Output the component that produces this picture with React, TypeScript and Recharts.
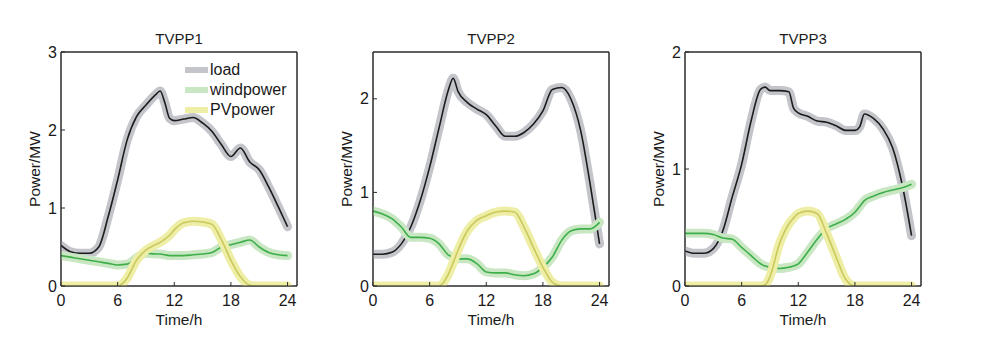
import { LineChart, Line, XAxis, YAxis, ReferenceArea } from 'recharts';

// hours of the day (extra half-hour points where a curve has a sharp peak)
const hours1 = [0, 1, 2, 3, 4, 5, 6, 7, 8, 9, 10, 10.5, 11, 11.5, 12, 13, 14, 15, 16, 17, 18, 19, 20, 21, 22, 23, 24];
const hours2 = [0, 1, 2, 3, 4, 5, 6, 7, 8, 8.5, 9, 10, 11, 12, 13, 14, 15, 16, 17, 18, 19, 20, 21, 22, 23, 24];
const hours3 = [0, 1, 2, 3, 4, 5, 6, 7, 8, 8.5, 9, 10, 11, 11.5, 12, 13, 14, 15, 16, 17, 18, 18.5, 19, 20, 21, 22, 23, 24];

const load1 = [0.52, 0.44, 0.42, 0.42, 0.5, 0.89, 1.36, 1.87, 2.17, 2.32, 2.45, 2.5, 2.35, 2.15, 2.12, 2.14, 2.16, 2.09, 1.98, 1.81, 1.66, 1.77, 1.59, 1.49, 1.27, 1.02, 0.76];
const wind1 = [0.39, 0.37, 0.35, 0.33, 0.31, 0.29, 0.27, 0.28, 0.36, 0.42, 0.41, 0.41, 0.4, 0.39, 0.39, 0.39, 0.4, 0.41, 0.43, 0.5, 0.53, 0.56, 0.59, 0.5, 0.43, 0.4, 0.39];
const pv1 = [0, 0, 0, 0, 0, 0, 0, 0.1, 0.33, 0.46, 0.53, 0.56, 0.6, 0.65, 0.72, 0.81, 0.83, 0.82, 0.79, 0.59, 0.33, 0.12, 0.01, 0, 0, 0, 0];

const load2 = [0.34, 0.34, 0.36, 0.45, 0.63, 0.91, 1.27, 1.69, 2.1, 2.22, 2.08, 1.96, 1.89, 1.83, 1.71, 1.6, 1.6, 1.64, 1.73, 1.87, 2.1, 2.12, 1.99, 1.66, 1.09, 0.45];
const wind2 = [0.8, 0.77, 0.72, 0.63, 0.52, 0.52, 0.51, 0.45, 0.33, 0.31, 0.29, 0.29, 0.24, 0.15, 0.14, 0.14, 0.12, 0.11, 0.13, 0.2, 0.31, 0.49, 0.59, 0.61, 0.61, 0.68];
const pv2 = [0, 0, 0, 0, 0, 0, 0, 0, 0.13, 0.25, 0.38, 0.59, 0.7, 0.75, 0.79, 0.8, 0.79, 0.63, 0.41, 0.2, 0.04, 0, 0, 0, 0, 0];

const load3 = [0.3, 0.28, 0.28, 0.32, 0.47, 0.76, 1.04, 1.41, 1.68, 1.7, 1.67, 1.67, 1.66, 1.52, 1.48, 1.45, 1.41, 1.4, 1.37, 1.33, 1.33, 1.36, 1.47, 1.43, 1.34, 1.18, 0.87, 0.43];
const wind3 = [0.45, 0.45, 0.45, 0.44, 0.41, 0.4, 0.33, 0.26, 0.19, 0.17, 0.16, 0.15, 0.16, 0.17, 0.19, 0.29, 0.4, 0.49, 0.53, 0.57, 0.63, 0.68, 0.73, 0.77, 0.8, 0.82, 0.84, 0.87];
const pv3 = [0, 0, 0, 0, 0, 0, 0, 0, 0, 0.01, 0.08, 0.36, 0.53, 0.58, 0.62, 0.64, 0.62, 0.45, 0.25, 0.06, 0, 0, 0, 0, 0, 0, 0, 0];

const titles = ['TVPP1', 'TVPP2', 'TVPP3'];
const xTicks = [0, 6, 12, 18, 24];
const yTicks = [[0, 1, 2, 3], [0, 1, 2], [0, 1, 2]];
const yMax = [3, 2.5, 2];
const legendNames = ['load', 'windpower', 'PVpower'];

const series = [
  { key: 'load', band: '#c3c5cb', line: '#1c1c1c' },
  { key: 'wind', band: '#c8e7c2', line: '#3daf4a' },
  { key: 'pv', band: '#eeeea6', line: '#c9c95e' },
];

const build = (t: number[], load: number[], wind: number[], pv: number[]) =>
  t.map((h, i) => ({ t: h, load: load[i], wind: wind[i], pv: pv[i] }));

const panels = [
  build(hours1, load1, wind1, pv1),
  build(hours2, load2, wind2, pv2),
  build(hours3, load3, wind3, pv3),
];

const FONT = '"Liberation Sans", Arial, sans-serif';
const AXIS = '#2b2b2b';
const PANEL_W = 312;
const H = 347;
const M = { top: 51, right: 14, bottom: 0, left: 21 };

function Panel({ idx }: { idx: number }) {
  const data = panels[idx];
  const plotLeft = M.left + 40;
  const plotW = PANEL_W - plotLeft - M.right - 1;
  const tickStyle = { fill: '#1a1a1a', fontSize: 16, fontFamily: FONT };
  return (
    <div style={{ position: 'absolute', left: idx * PANEL_W, top: 0, width: PANEL_W, height: H }}>
      <LineChart width={PANEL_W} height={H} data={data} margin={M}>
        <XAxis
          dataKey="t"
          type="number"
          domain={[0, 25]}
          ticks={xTicks}
          height={61}
          tickSize={-4}
          tickMargin={13}
          stroke={AXIS}
          tick={tickStyle}
          allowDataOverflow
        />
        <XAxis
          xAxisId="top"
          dataKey="t"
          type="number"
          orientation="top"
          domain={[0, 25]}
          ticks={xTicks}
          height={1}
          tickSize={-4}
          tick={false}
          stroke={AXIS}
        />
        <YAxis
          type="number"
          domain={[0, yMax[idx]]}
          ticks={yTicks[idx]}
          width={40}
          tickSize={-4}
          tickMargin={8}
          stroke={AXIS}
          tick={tickStyle}
          allowDataOverflow
        />
        <YAxis
          yAxisId="right"
          type="number"
          orientation="right"
          domain={[0, yMax[idx]]}
          ticks={yTicks[idx]}
          width={1}
          tickSize={-4}
          tick={false}
          stroke={AXIS}
        />
        <ReferenceArea x1={0} x2={25} y1={0} y2={yMax[idx]} fill="none" stroke={AXIS} strokeWidth={1} ifOverflow="visible" />
        {series.map((s) => [
          <Line
            key={s.key + '-band'}
            dataKey={s.key}
            type="monotone"
            stroke={s.band}
            strokeWidth={9}
            strokeLinejoin="round"
            strokeLinecap="round"
            dot={false}
            activeDot={false}
            isAnimationActive={false}
          />,
          <Line
            key={s.key + '-line'}
            dataKey={s.key}
            type="monotone"
            stroke={s.line}
            strokeWidth={1.6}
            dot={false}
            activeDot={false}
            isAnimationActive={false}
          />,
        ])}
      </LineChart>
      <div
        style={{
          position: 'absolute', left: plotLeft, width: plotW, top: 30, textAlign: 'center',
          fontSize: 15, fontFamily: FONT, color: '#1a1a1a', lineHeight: '18px',
        }}
      >
        {titles[idx]}
      </div>
      <div
        style={{
          position: 'absolute', left: plotLeft, width: plotW, top: 311, textAlign: 'center',
          fontSize: 15.5, fontFamily: FONT, color: '#1a1a1a', lineHeight: '18px',
        }}
      >
        Time/h
      </div>
      <div
        style={{
          position: 'absolute', left: plotLeft - 26 - 60, top: 169 - 9, width: 120, textAlign: 'center',
          fontSize: 15.5, fontFamily: FONT, color: '#1a1a1a', lineHeight: '18px',
          transform: 'rotate(-90deg)', transformOrigin: '60px 9px',
        }}
      >
        Power/MW
      </div>
      {idx === 0 && (
        <div style={{ position: 'absolute', left: 185, top: 60, fontFamily: FONT, fontSize: 16, color: '#1a1a1a' }}>
          {legendNames.map((n, i) => (
            <div key={n} style={{ display: 'flex', alignItems: 'center', height: 20 }}>
              <div style={{ width: 23, height: 6, background: series[i].band, marginRight: 2 }} />
              <span>{n}</span>
            </div>
          ))}
        </div>
      )}
    </div>
  );
}

export default function App() {
  return (
    <div style={{ position: 'absolute', left: 0, top: 0, width: 986, height: H, background: '#fff' }}>
      {[0, 1, 2].map((i) => (
        <Panel key={i} idx={i} />
      ))}
    </div>
  );
}
